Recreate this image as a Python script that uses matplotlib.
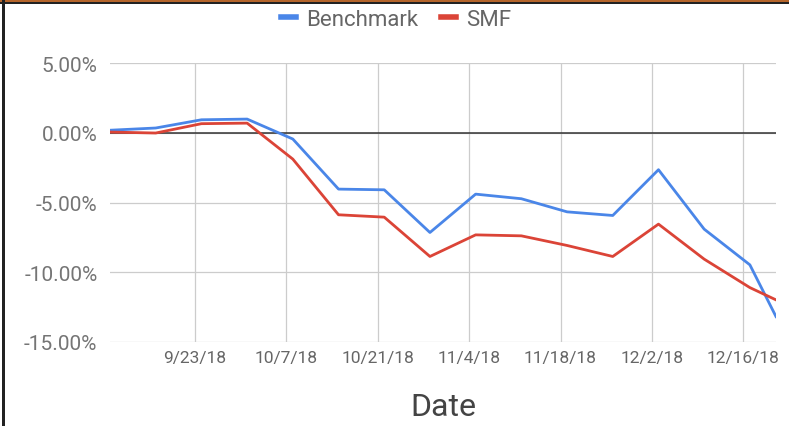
import numpy as np
import matplotlib.pyplot as plt
import matplotlib.dates as mdates
from matplotlib.lines import Line2D
from matplotlib.patches import Rectangle
import datetime as dt

plt.rcParams['font.family'] = ['Roboto', 'DejaVu Sans']

# weekly dates (Mondays) plus the last Friday of the period
dates = ['2018-09-10', '2018-09-17', '2018-09-24', '2018-10-01', '2018-10-08',
         '2018-10-15', '2018-10-22', '2018-10-29', '2018-11-05', '2018-11-12',
         '2018-11-19', '2018-11-26', '2018-12-03', '2018-12-10', '2018-12-17',
         '2018-12-21']
benchmark = [0.18, 0.34, 0.93, 0.98, -0.45, -4.04, -4.09, -7.15, -4.40, -4.73,
             -5.67, -5.93, -2.65, -6.91, -9.47, -13.18]
smf = [0.05, -0.02, 0.65, 0.69, -1.89, -5.88, -6.05, -8.87, -7.32, -7.39,
       -8.08, -8.87, -6.55, -9.06, -11.10, -11.98]
tick_dates = ['2018-09-23', '2018-10-07', '2018-10-21', '2018-11-04',
              '2018-11-18', '2018-12-02', '2018-12-16']
y_ticks = [-15, -10, -5, 0, 5]

x = [dt.datetime.strptime(d, '%Y-%m-%d') for d in dates]
xt = [dt.datetime.strptime(d, '%Y-%m-%d') for d in tick_dates]

blue = '#4a86e8'
red = '#db4437'

fig = plt.figure(figsize=(7.89, 4.27), dpi=100)
ax = fig.add_axes([110/789, 1 - 343/427, 666/789, 279/427])

ax.plot(x, benchmark, color=blue, lw=2.0, zorder=3)
ax.plot(x, smf, color=red, lw=2.0, zorder=3)
ax.axhline(0, color='#333333', lw=1.1, zorder=2)

ax.set_xlim(x[0], x[-1])
ax.set_ylim(-15, 5)
ax.set_xticks(xt)
ax.set_xticklabels(['{}/{}/{}'.format(d.month, d.day, d.strftime('%y')) for d in xt])
ax.set_yticks(y_ticks)
ax.set_yticklabels(['{:.2f}%'.format(v) for v in y_ticks])
ax.grid(True, color='#cccccc', lw=0.9, zorder=0)
for s in ax.spines.values():
    s.set_visible(False)
ax.tick_params(axis='y', length=0, pad=9, labelsize=15, labelcolor='#757575')
ax.tick_params(axis='x', length=0, pad=6, labelsize=12.5, labelcolor='#666666')

fig.text(443/789, 1 - 416/427, 'Date', ha='center', va='baseline',
         fontsize=23, color='#444444')

handles = [Line2D([], [], color=blue, lw=4), Line2D([], [], color=red, lw=4)]
fig.legend(handles, ['Benchmark', 'SMF'], loc='center', ncol=2,
           bbox_to_anchor=(396/789, 1 - 20/427), frameon=False, fontsize=16,
           handlelength=0.7, handletextpad=0.45, columnspacing=1.0,
           labelcolor='#666666', borderpad=0)

# frame around the screenshot
fig.add_artist(Rectangle((0, 1 - 3/427), 1, 3/427, transform=fig.transFigure,
                         color='#b5652b', lw=0))
fig.add_artist(Rectangle((0, 1 - 5/427), 1, 2/427, transform=fig.transFigure,
                         color='#222222', lw=0))
fig.add_artist(Rectangle((2/789, 0), 3/789, 1, transform=fig.transFigure,
                         color='#222222', lw=0))

fig.savefig('out.png', dpi=100)
